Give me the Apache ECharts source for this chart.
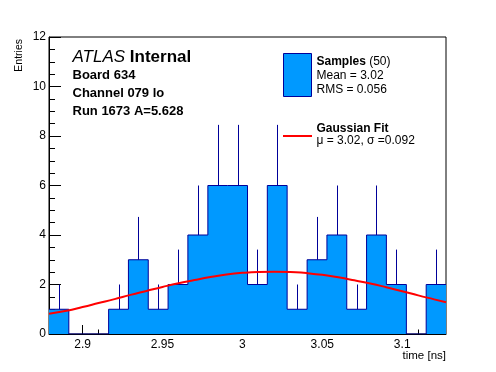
<!DOCTYPE html>
<html>
<head>
<meta charset="utf-8">
<style>html,body{margin:0;padding:0;background:#fff;}#c{width:496px;height:372px;}</style>
<script src="https://cdn.jsdelivr.net/npm/echarts@6/dist/echarts.min.js"></script>
</head>
<body>
<div id="c"></div>
<script>
// ---- data ----
const binEdges = [2.8790, 2.8914, 2.9038, 2.9163, 2.9287, 2.9411, 2.9535, 2.9659, 2.9784, 2.9908,
                  3.0032, 3.0156, 3.0280, 3.0405, 3.0529, 3.0653, 3.0777, 3.0901, 3.1026, 3.1150, 3.1274];
const counts = [1, 0, 0, 1, 3, 1, 2, 4, 6, 6, 2, 6, 1, 3, 4, 1, 4, 2, 0, 2];
const errors = [1, 0, 0, 1, 1.73, 1, 1.41, 2, 2.45, 2.45, 1.41, 2.45, 1, 1.73, 2, 1, 2, 1.41, 0, 1.41];
const fitX = [2.879, 2.89, 2.90, 2.91, 2.92, 2.93, 2.94, 2.95, 2.96, 2.97, 2.98, 2.99, 3.00,
              3.01, 3.02, 3.03, 3.04, 3.05, 3.06, 3.07, 3.08, 3.09, 3.10, 3.11, 3.12, 3.1274];
const fitY = [0.82, 0.94, 1.09, 1.25, 1.41, 1.58, 1.74, 1.90, 2.05, 2.18, 2.30, 2.40, 2.47,
              2.51, 2.52, 2.51, 2.46, 2.39, 2.29, 2.17, 2.04, 1.89, 1.73, 1.56, 1.40, 1.28];
const xMajorTicks = [2.9, 2.95, 3.0, 3.05, 3.1];
const xMinorTicks = [2.88, 2.89, 2.91, 2.92, 2.93, 2.94, 2.96, 2.97, 2.98, 2.99,
                     3.01, 3.02, 3.03, 3.04, 3.06, 3.07, 3.08, 3.09, 3.11, 3.12];
const xMin = 2.8790, xMax = 3.1274;
const yMin = 0, yMax = 12, yStep = 2;
const infoLines = ['Board 634', 'Channel 079 lo', 'Run 1673 A=5.628'];
const sampleLegend = ['Mean = 3.02', 'RMS = 0.056'];
const fitLegend = 'μ = 3.02, σ =0.092';

// ---- derived structures ----
const stepData = counts.map((c, i) => [binEdges[i], c]);
stepData.push([binEdges[binEdges.length - 1], counts[counts.length - 1]]);
const errData = [];
counts.forEach((c, i) => { if (c > 0) errData.push([(binEdges[i] + binEdges[i + 1]) / 2, c, errors[i]]); });
const fitData = fitX.map((x, i) => [x, fitY[i]]);

const FONT = "'Liberation Sans', Arial, Helvetica, sans-serif";
const NAVY = '#000099';
const FILL = '#0099ff';

const chart = echarts.init(document.getElementById('c'), null, {renderer: 'canvas'});
const xAxisCommon = {
  type: 'value', min: xMin, max: xMax, gridIndex: 0, position: 'bottom', offset: 0,
  splitLine: {show: false}
};
chart.setOption({
  animation: false,
  backgroundColor: '#fff',
  grid: {left: 49, right: 50, top: 37, bottom: 38, show: true, borderColor: '#000', borderWidth: 1, backgroundColor: 'transparent'},
  xAxis: [
    Object.assign({}, xAxisCommon, {
      axisLine: {show: true, onZero: false, lineStyle: {color: '#000', width: 1}},
      axisTick: {show: true, inside: true, length: 9, customValues: xMajorTicks, lineStyle: {color: '#000'}},
      axisLabel: {show: true, customValues: xMajorTicks, fontSize: 12, color: '#000', fontFamily: FONT, margin: 5,
                  formatter: v => String(+v.toFixed(2))}
    }),
    Object.assign({}, xAxisCommon, {
      axisLine: {show: false},
      axisTick: {show: true, inside: true, length: 4.5, customValues: xMinorTicks, lineStyle: {color: '#000'}},
      axisLabel: {show: false}
    })
  ],
  yAxis: {
    type: 'value', min: yMin, max: yMax, interval: yStep,
    axisLine: {show: true, onZero: false, lineStyle: {color: '#000', width: 1}},
    axisTick: {show: true, inside: true, length: 12, lineStyle: {color: '#000'}},
    minorTick: {show: true, splitNumber: 4, length: 6, lineStyle: {color: '#000'}},
    splitLine: {show: false},
    axisLabel: {fontSize: 12, color: '#000', fontFamily: FONT, margin: 3}
  },
  series: [
    {
      type: 'line', name: 'Samples', xAxisIndex: 0, data: stepData, step: 'end',
      showSymbol: false, symbol: 'none',
      lineStyle: {color: NAVY, width: 1},
      areaStyle: {color: FILL, opacity: 1},
      z: 2
    },
    {
      type: 'custom', name: 'errors', xAxisIndex: 0, data: errData,
      encode: {x: 0, y: 1},
      renderItem: function (params, api) {
        const x = api.value(0), y = api.value(1), e = api.value(2);
        const p0 = api.coord([x, y]);
        const p1 = api.coord([x, y + e]);
        const px = Math.round(p0[0]) + 0.5;
        return {type: 'line', shape: {x1: px, y1: p0[1], x2: px, y2: p1[1]},
                style: {stroke: NAVY, lineWidth: 1}};
      },
      z: 3
    },
    {
      type: 'line', name: 'Gaussian Fit', xAxisIndex: 0, data: fitData, smooth: true,
      showSymbol: false, symbol: 'none',
      lineStyle: {color: '#ff0000', width: 2},
      z: 4
    }
  ],
  graphic: [
    {type: 'text', left: null, x: 19, y: 39, rotation: Math.PI / 2,
     style: {text: 'Entries', fontSize: 10.5, fontFamily: FONT, fill: '#000', align: 'right', verticalAlign: 'middle'}},
    {type: 'text', x: 446, y: 356,
     style: {text: 'time [ns]', fontSize: 11.5, fontFamily: FONT, fill: '#000', align: 'right', verticalAlign: 'middle'}},
    {type: 'text', x: 72.5, y: 57.5,
     style: {text: '{i|ATLAS} {b|Internal}', fontSize: 17, fontFamily: FONT, fill: '#000', align: 'left', verticalAlign: 'middle',
             rich: {i: {fontStyle: 'italic', fontSize: 17, fontFamily: FONT}, b: {fontWeight: 'bold', fontSize: 17, fontFamily: FONT}}}},
    {type: 'text', x: 72.5, y: 75.5,
     style: {text: infoLines[0], fontSize: 13, fontWeight: 'bold', fontFamily: FONT, fill: '#000', verticalAlign: 'middle'}},
    {type: 'text', x: 72.5, y: 93.8,
     style: {text: infoLines[1], fontSize: 13, fontWeight: 'bold', fontFamily: FONT, fill: '#000', verticalAlign: 'middle'}},
    {type: 'text', x: 72.5, y: 111.5,
     style: {text: infoLines[2], fontSize: 13, fontWeight: 'bold', fontFamily: FONT, fill: '#000', verticalAlign: 'middle'}},
    {type: 'rect', shape: {x: 283.5, y: 53.5, width: 28, height: 43},
     style: {fill: FILL, stroke: NAVY, lineWidth: 1}},
    {type: 'text', x: 316.5, y: 61.5,
     style: {text: '{b|Samples} (50)', fontSize: 12, fontFamily: FONT, fill: '#000', verticalAlign: 'middle',
             rich: {b: {fontWeight: 'bold', fontSize: 12, fontFamily: FONT}}}},
    {type: 'text', x: 316.5, y: 75.5,
     style: {text: sampleLegend[0], fontSize: 12, fontFamily: FONT, fill: '#000', verticalAlign: 'middle'}},
    {type: 'text', x: 316.5, y: 89.3,
     style: {text: sampleLegend[1], fontSize: 12, fontFamily: FONT, fill: '#000', verticalAlign: 'middle'}},
    {type: 'line', shape: {x1: 283, y1: 136, x2: 312, y2: 136},
     style: {stroke: '#ff0000', lineWidth: 2}},
    {type: 'text', x: 316.5, y: 128.5,
     style: {text: 'Gaussian Fit', fontSize: 12, fontWeight: 'bold', fontFamily: FONT, fill: '#000', verticalAlign: 'middle'}},
    {type: 'text', x: 316.5, y: 140.8,
     style: {text: fitLegend, fontSize: 12, fontFamily: FONT, fill: '#000', verticalAlign: 'middle'}}
  ]
});
</script>
</body>
</html>
